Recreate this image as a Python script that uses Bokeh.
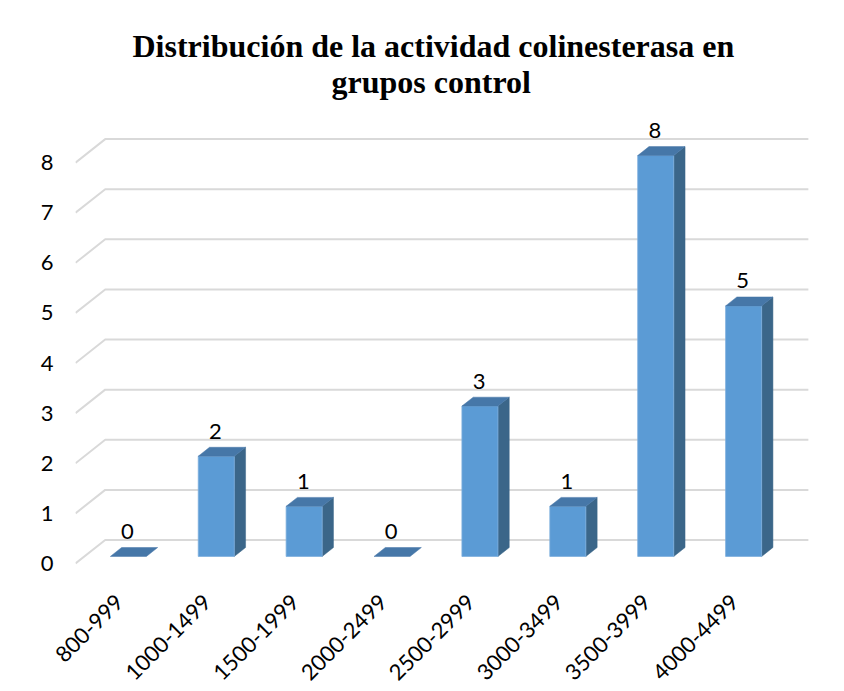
import math
from bokeh.plotting import figure
from bokeh.models import FixedTicker, ColumnDataSource, Title
from bokeh.core.properties import value
from bokeh.embed import file_html
from bokeh.resources import INLINE

# ---- data ----
categories = ["800-999", "1000-1499", "1500-1999", "2000-2499",
              "2500-2999", "3000-3499", "3500-3999", "4000-4499"]
counts = [0, 2, 1, 0, 3, 1, 8, 5]
y_ticks = [0, 1, 2, 3, 4, 5, 6, 7, 8]
title_lines = ["Distribución de la actividad colinesterasa en", "grupos control"]

# ---- 3D styling constants (data units) ----
DX = 0.338    # floor depth, x
DY = 0.469    # floor depth, y
F0 = 0.30     # bar front depth fraction
F1 = 0.68     # bar back depth fraction
BW = 0.41     # bar width
LABEL_GAP = 0.32

FRONT = "#5B9BD5"
SIDE = "#3B6689"
TOP = "#4677A8"
GRID = "#D9D9D9"
FONT = "Lato"
FS = "22px"

n = len(categories)

p = figure(width=844, height=690, output_backend="svg", toolbar_location=None,
           x_range=(-0.5, 7.885), y_range=(-0.06, 8.94),
           min_border_left=75, min_border_right=32,
           min_border_top=115, min_border_bottom=124,
           title_location=None)
p.outline_line_color = None
p.grid.visible = False
p.background_fill_color = "white"
p.border_fill_color = "white"

# title (two lines, placed where the reference has them)
t2 = Title(text=title_lines[1], align="left", text_font="Liberation Serif",
           text_font_style="bold", text_font_size="32px", text_color="black",
           offset=256, standoff=32)
t1 = Title(text=title_lines[0], align="left", text_font="Liberation Serif",
           text_font_style="bold", text_font_size="32px", text_color="black",
           offset=57, standoff=-36)
p.add_layout(t2, "above")
p.add_layout(t1, "above")

# back wall / side wall gridlines
gx, gy = [], []
for t in y_ticks:
    gx.append([-0.5, -0.5 + DX, (n - 0.5) + DX])
    gy.append([t, t + DY, t + DY])
p.multi_line(gx, gy, line_color=GRID, line_width=2)

# bars
fx, fy, sx, sy, tx, ty = [], [], [], [], [], []
for i, v in enumerate(counts):
    L = i + F0 * DX - BW / 2
    R = L + BW
    b0 = F0 * DY
    b1 = F1 * DY
    d = (F1 - F0) * DX
    if v > 0:
        fx.append([L, R, R, L]); fy.append([b0, b0, v + b0, v + b0])
        sx.append([R, R + d, R + d, R]); sy.append([b0, b1, v + b1, v + b0])
    tx.append([L, R, R + d, L + d]); ty.append([v + b0, v + b0, v + b1, v + b1])

p.patches(sx, sy, fill_color=SIDE, line_color=SIDE, line_width=0.5)
p.patches(fx, fy, fill_color=FRONT, line_color="#7DAFDD", line_width=0.8)
p.patches(tx, ty, fill_color=TOP, line_color=TOP, line_width=0.5)

# value labels
lab = ColumnDataSource(dict(
    x=[i + F0 * DX - 0.01 for i in range(n)],
    y=[v + F1 * DY + LABEL_GAP for v in counts],
    t=[str(v) for v in counts]))
p.text(x="x", y="y", text="t", source=lab, text_font=value(FONT),
       text_font_size=FS, text_align="center", text_baseline="middle",
       text_color="black")

# axes
p.yaxis.ticker = FixedTicker(ticks=y_ticks)
p.yaxis.axis_line_color = None
p.yaxis.major_tick_line_color = None
p.yaxis.minor_tick_line_color = None
p.yaxis.major_tick_out = 0
p.yaxis.major_label_standoff = 22
p.yaxis.major_label_text_font = FONT
p.yaxis.major_label_text_font_size = FS
p.yaxis.major_label_text_color = "black"

p.xaxis.ticker = FixedTicker(ticks=list(range(n)))
p.xaxis.major_label_overrides = {i: c for i, c in enumerate(categories)}
p.xaxis.major_label_orientation = math.pi / 4
p.xaxis.axis_line_color = None
p.xaxis.major_tick_line_color = None
p.xaxis.minor_tick_line_color = None
p.xaxis.major_tick_out = 0
p.xaxis.major_label_standoff = 32
p.xaxis.major_label_text_font = FONT
p.xaxis.major_label_text_font_size = FS
p.xaxis.major_label_text_color = "black"

open("out.html", "w").write(file_html(p, INLINE))
